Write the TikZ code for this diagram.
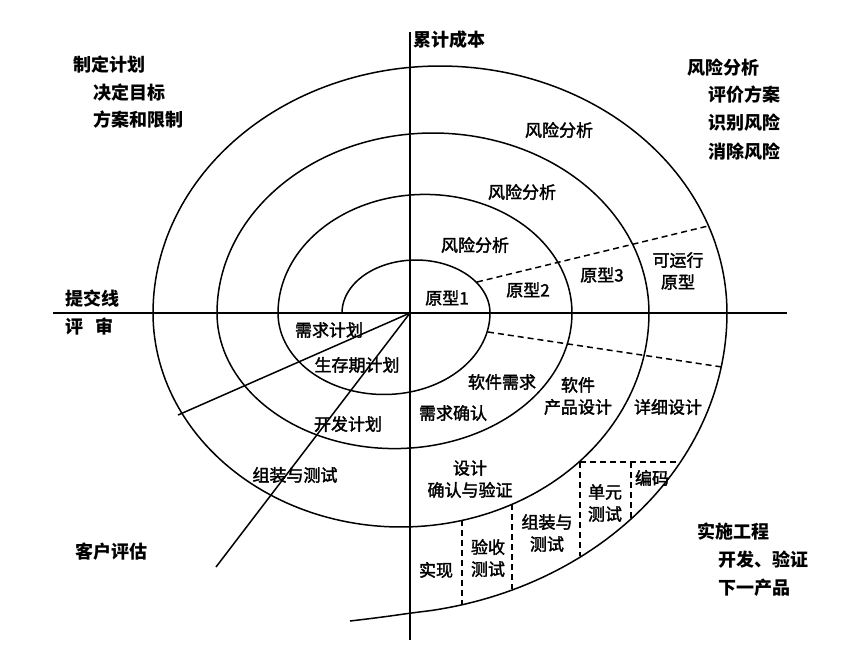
\documentclass[tikz,border=0pt]{standalone}
\usepackage{fontspec}
\setmainfont{Noto Sans CJK SC}
\newfontfamily\midcjk{Noto Sans CJK SC}[FakeBold=2]
\begin{document}
\begin{tikzpicture}[x=1pt,y=-1pt,
  spiral/.style={line width=1.5pt, line join=round},
  axis/.style={line width=1.6pt},
  dashline/.style={line width=1.5pt, dash pattern=on 6pt off 4pt},
  lab/.style={font=\midcjk\fontsize{17}{22}\selectfont, inner sep=0pt, align=center},
  corner/.style={font=\fontsize{18}{22}\selectfont\bfseries, inner sep=0pt, anchor=west}]
\fill[white] (0,0) rectangle (846,646);
\useasboundingbox (0,0) rectangle (846,646);

% axes
\coordinate (O) at (410,313);
\coordinate (HL) at (53,313);
\coordinate (HR) at (787,313);
\coordinate (VT) at (410,32);
\coordinate (VB) at (410,640);
\draw[axis] (HL) -- (HR);
\draw[axis] (VT) -- (VB);

% spiral
\draw[spiral]
  plot[domain=180:360, samples=60] ({416+74*cos(\x)}, {313+53*sin(\x)})
  -- plot[domain=0:180, samples=70] ({384+106*cos(\x)}, {313+81.5*sin(\x)})
  -- plot[domain=180:360, samples=80] ({425+147*cos(\x)}, {313+118.6*sin(\x)})
  -- plot[domain=0:180, samples=90] ({394.5+177.5*cos(\x)}, {313+135.6*sin(\x)})
  -- plot[domain=180:360, samples=100] ({433+216*cos(\x)}, {313+180*sin(\x)})
  -- plot[domain=0:180, samples=110] ({401+248*cos(\x)}, {313+214*sin(\x)})
  -- plot[domain=180:360, samples=120] ({440+287*cos(\x)}, {313+247*sin(\x)})
  -- plot[domain=0:80, samples=60] ({370+357*cos(\x)}, {313+302*sin(\x)})
  -- plot[smooth] coordinates {(432,610.4) (410,613.2) (390,616) (370,618.6) (350,621)};

% radial review lines
\coordinate (R1) at (178,415);
\coordinate (R2) at (216,567);
\draw[spiral] (O) -- (R1);
\draw[spiral] (O) -- (R2);

% dashed lines
\coordinate (DA1) at (477,282);
\coordinate (DA2) at (708,226);
\draw[dashline] (DA1) -- (DA2);
\coordinate (DB1) at (488,332);
\coordinate (DB2) at (722,367);
\draw[dashline] (DB1) -- (DB2);
\coordinate (BX1) at (580,462);
\coordinate (BX2) at (680,462);
\draw[dashline] (BX1) -- (BX2);
\coordinate (BV1a) at (580,462); \coordinate (BV1b) at (580,556);
\coordinate (BV2a) at (631,462); \coordinate (BV2b) at (631,518);
\coordinate (BV3a) at (512,504); \coordinate (BV3b) at (512,589);
\coordinate (BV4a) at (462,520); \coordinate (BV4b) at (462,604);
\draw[dashline] (BV1a) -- (BV1b);
\draw[dashline] (BV2a) -- (BV2b);
\draw[dashline] (BV3a) -- (BV3b);
\draw[dashline] (BV4a) -- (BV4b);

% corner texts
\node[corner] (cost) at (413,40) {累计成本};
\node[corner] (pl1) at (73,65) {制定计划};
\node[corner] (pl2) at (93,93) {决定目标};
\node[corner] (pl3) at (93,120) {方案和限制};
\node[corner] (ra1) at (687,68) {风险分析};
\node[corner] (ra2) at (708,95) {评价方案};
\node[corner] (ra3) at (708,123) {识别风险};
\node[corner] (ra4) at (708,152) {消除风险};
\node[corner] (sub) at (65,299) {提交线};
\node[corner] (rev) at (65,327) {评\hspace{12pt}审};
\node[corner] (cust) at (75,552) {客户评估};
\node[corner] (im1) at (697,532) {实施工程};
\node[corner] (im2) at (718,560) {开发、验证};
\node[corner] (im3) at (718,588) {下一产品};

% interior labels
\node[lab] (r1) at (559,130) {风险分析};
\node[lab] (r2) at (522,192) {风险分析};
\node[lab] (r3) at (475,245) {风险分析};
\node[lab] (p1) at (447,298) {原型1};
\node[lab] (p2) at (528,290) {原型2};
\node[lab] (p3) at (602,275) {原型3};
\node[lab] (p4) at (678,271) {可运行\\原型};
\node[lab] (q1) at (329,330) {需求计划};
\node[lab] (q2) at (357,365) {生存期计划};
\node[lab] (q3) at (348,424) {开发计划};
\node[lab] (q4) at (295,475) {组装与测试};
\node[lab] (s1) at (502,382) {软件需求};
\node[lab] (s2) at (453,413) {需求确认};
\node[lab] (s3) at (578,396) {软件\\产品设计};
\node[lab] (s4) at (668,407) {详细设计};
\node[lab] (d1) at (470,479) {设计\\确认与验证};
\node[lab] (d2) at (436,570) {实现};
\node[lab] (d3) at (488,558) {验收\\测试};
\node[lab] (d4) at (547,533) {组装与\\测试};
\node[lab] (d5) at (605,503) {单元\\测试};
\node[lab] (d6) at (652,478) {编码};
\end{tikzpicture}
\end{document}
